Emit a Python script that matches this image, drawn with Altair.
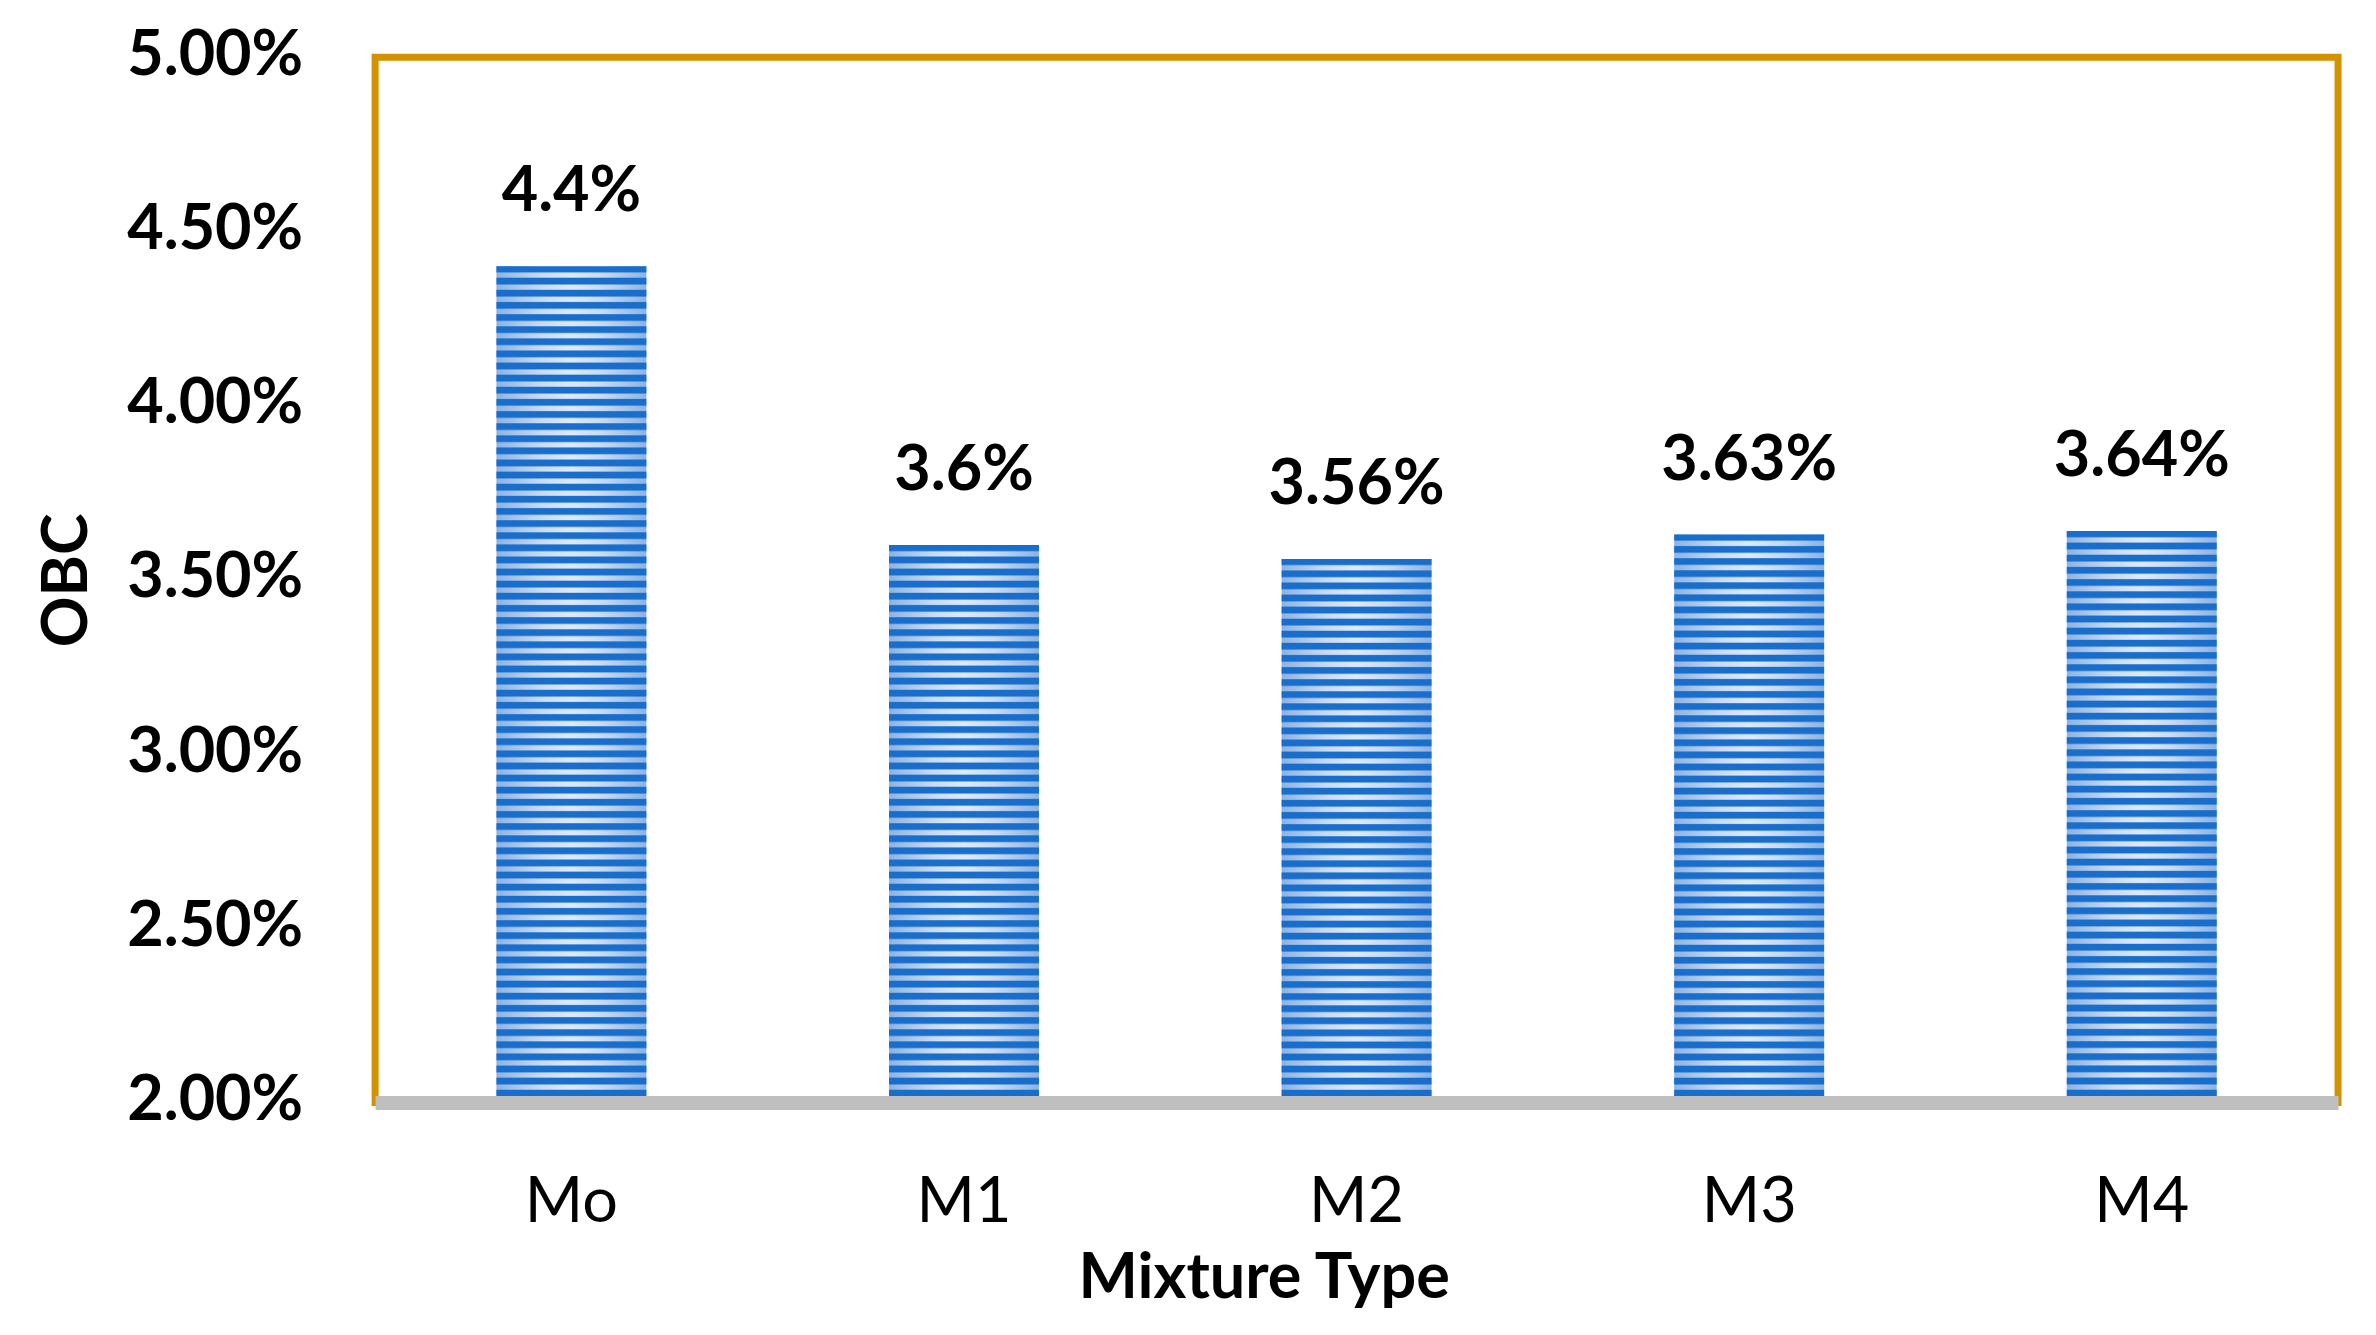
import altair as alt
import pandas as pd

# ---- data ----
mixtures = ["Mo", "M1", "M2", "M3", "M4"]
obc = [0.044, 0.036, 0.0356, 0.0363, 0.0364]
value_labels = ["4.4%", "3.6%", "3.56%", "3.63%", "3.64%"]
y_ticks = [0.02, 0.025, 0.03, 0.035, 0.04, 0.045, 0.05]

df = pd.DataFrame({"Mixture": mixtures, "OBC": obc, "label": value_labels})

# ---- layout / style ----
W = 1965
H = 1046.5
Y_MIN, Y_MAX = 0.02, 0.05
STRIPE_PX = 12.2
FONT = "Lato"
FS = 63
DARK = "#1A6ECB"
CLEAR = "rgba(26,110,203,0)"

x_enc = alt.X(
    "Mixture:N",
    sort=mixtures,
    scale=alt.Scale(paddingInner=0.618, paddingOuter=0.309),
    axis=alt.Axis(
        title="Mixture Type",
        titleFontSize=FS,
        titleFontWeight="bold",
        titleColor="black",
        titleX=889.5,
        titleY=195,
        titleAlign="center",
        titleBaseline="alphabetic",
        labelFontSize=FS,
        labelFontWeight="normal",
        labelColor="black",
        labelAngle=0,
        labelPadding=119,
        labelBaseline="alphabetic",
        ticks=False,
        tickSize=0,
        domainColor="#BFBFBF",
        domainWidth=14,
        domainCap="butt",
        grid=False,
        zindex=1,
    ),
)

y_enc = alt.Y(
    "OBC:Q",
    scale=alt.Scale(domain=[Y_MIN, Y_MAX], zero=False, nice=False),
    axis=alt.Axis(
        title="OBC",
        titleFontSize=FS,
        titleFontWeight="bold",
        titleColor="black",
        titleAngle=270,
        titleX=-288.5,
        titleY=H / 2,
        titleAlign="center",
        titleBaseline="alphabetic",
        values=y_ticks,
        format=".2%",
        labelFontSize=FS,
        labelFontWeight="bold",
        labelColor="black",
        labelPadding=72.5,
        labelBaseline="alphabetic",
        labelOffset=17,
        ticks=False,
        tickSize=0,
        domain=False,
        grid=False,
    ),
)

shade = alt.LinearGradient(
    gradient="linear",
    x1=0, y1=0, x2=1, y2=0,
    stops=[
        alt.GradientStop(color="#8DB3E3", offset=0),
        alt.GradientStop(color="#C9DBF2", offset=0.3),
        alt.GradientStop(color="#DDE9F7", offset=0.5),
        alt.GradientStop(color="#C9DBF2", offset=0.7),
        alt.GradientStop(color="#8DB3E3", offset=1),
    ],
)


def stripes(value):
    h = (value - Y_MIN) / (Y_MAX - Y_MIN) * H
    n = max(1, round(h / STRIPE_PX))
    stops = []
    for k in range(n):
        a = k / n
        stops += [
            alt.GradientStop(color=DARK, offset=a),
            alt.GradientStop(color=DARK, offset=(k + 0.44) / n),
            alt.GradientStop(color=CLEAR, offset=(k + 0.58) / n),
            alt.GradientStop(color=CLEAR, offset=(k + 0.90) / n),
        ]
    stops.append(alt.GradientStop(color=DARK, offset=1))
    return alt.LinearGradient(gradient="linear", x1=0, y1=0, x2=0, y2=1, stops=stops)


base = alt.Chart(df)
layers = []
layers.append(
    base.mark_bar(fill=shade, strokeWidth=0).encode(
        x=x_enc, y=y_enc, y2=alt.datum(Y_MIN)
    )
)
for m, v in zip(mixtures, obc):
    layers.append(
        base.transform_filter(alt.datum.Mixture == m)
        .mark_bar(fill=stripes(v), strokeWidth=0)
        .encode(x=x_enc, y=y_enc, y2=alt.datum(Y_MIN))
    )

labels = base.mark_text(
    dy=-55, font=FONT, fontSize=FS, fontWeight="bold", color="black",
    baseline="alphabetic", align="center",
).encode(x=x_enc, y=y_enc, text="label:N")
layers.append(labels)

chart = (
    alt.layer(*layers)
    .properties(
        width=W,
        height=H,
        autosize=alt.AutoSizeParams(type="none"),
        padding={"left": 367.5, "top": 48.5, "right": 30, "bottom": 224},
        background="white",
    )
    .configure(font=FONT)
    .configure_view(stroke="#D39300", strokeWidth=7)
)

chart.save("out.html", embed_options={"renderer": "svg", "actions": False})
